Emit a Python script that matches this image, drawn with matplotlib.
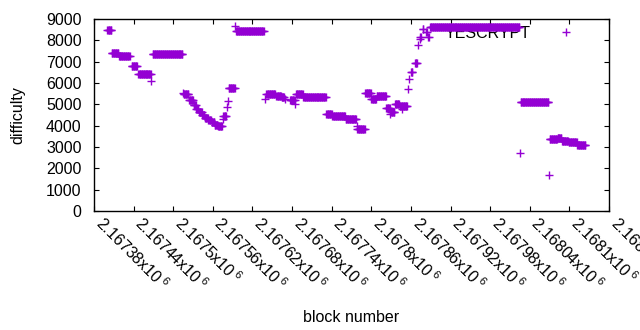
import numpy as np
import matplotlib
matplotlib.use("Agg")
import matplotlib.pyplot as plt

plt.rcParams['font.family'] = ['Liberation Sans', 'DejaVu Sans']
plt.rcParams['mathtext.fontset'] = 'custom'
plt.rcParams['mathtext.rm'] = 'Liberation Sans'
plt.rcParams['mathtext.it'] = 'Liberation Sans'

# Difficulty runs: (first block, last block, difficulty)
seg_start = [2167400, 2167407, 2167418, 2167437, 2167447, 2167467, 2167469,
             2167515, 2167516, 2167524, 2167531, 2167535, 2167539, 2167544,
             2167548, 2167553, 2167558, 2167563, 2167568, 2167575, 2167576,
             2167582, 2167583, 2167584, 2167594, 2167595, 2167639, 2167641,
             2167656, 2167664, 2167669, 2167677, 2167685, 2167686, 2167697,
             2167732, 2167741, 2167761, 2167778, 2167779, 2167791, 2167800,
             2167808, 2167823, 2167829, 2167830, 2167836, 2167843, 2167846,
             2167856, 2167857, 2167860, 2167866, 2167871, 2167873, 2167874,
             2167878, 2167883, 2167886, 2167889, 2168025, 2168026, 2168069,
             2168070, 2168082, 2168089, 2168099, 2168112]
seg_end = [2167406, 2167417, 2167434, 2167445, 2167466, 2167467, 2167514,
           2167515, 2167523, 2167530, 2167534, 2167538, 2167543, 2167547,
           2167552, 2167557, 2167562, 2167567, 2167574, 2167575, 2167580,
           2167582, 2167583, 2167593, 2167594, 2167637, 2167639, 2167654,
           2167663, 2167668, 2167669, 2167684, 2167685, 2167696, 2167731,
           2167740, 2167760, 2167777, 2167778, 2167790, 2167799, 2167807,
           2167822, 2167828, 2167829, 2167835, 2167842, 2167854, 2167846,
           2167856, 2167857, 2167862, 2167869, 2167871, 2167873, 2167875,
           2167879, 2167884, 2167887, 2168024, 2168025, 2168068, 2168069,
           2168081, 2168088, 2168098, 2168111, 2168124]
seg_difficulty = [8470, 7392, 7250, 6780, 6406, 6078, 7345,
                  5531, 5470, 5180, 4950, 4780, 4625, 4500,
                  4375, 4265, 4156, 4031, 3970, 4300, 4440,
                  4890, 5172, 5750, 8660, 8422, 5234, 5500,
                  5390, 5330, 5240, 5210, 5015, 5470, 5330,
                  4530, 4437, 4297, 3984, 3860, 5515, 5250,
                  5375, 4812, 4540, 4625, 5000, 4937, 4781,
                  5710, 6170, 6530, 6922, 7781, 8047, 8140,
                  8515, 8390, 8140, 8625, 2705, 5095, 1687,
                  3375, 3437, 3297, 3220, 3094]

tick_values = [2.16738, 2.16744, 2.16750, 2.16756, 2.16762, 2.16768, 2.16774,
               2.16780, 2.16786, 2.16792, 2.16798, 2.16804, 2.16810, 2.16816]
y_ticks = [0, 1000, 2000, 3000, 4000, 5000, 6000, 7000, 8000, 9000]

blocks = []
diffs = []
for s, e, d in zip(seg_start, seg_end, seg_difficulty):
    for b in range(s, e + 1):
        blocks.append(b)
        diffs.append(d)

FS = 11.5
fig = plt.figure(figsize=(6.4, 3.3), dpi=100)
ax = fig.add_axes([94/640, 1 - 211/330, (609-94)/640, (211-19)/330])

color = '#9400d3'
ax.plot(blocks, diffs, linestyle='none', marker='+', color=color,
        markersize=5.2, markeredgewidth=1.0, label='YESCRYPT', zorder=3)

ax.set_xlim(2167380, 2168160)
ax.set_ylim(0, 9000)
ax.set_yticks(y_ticks)
ax.set_yticklabels([str(v) for v in y_ticks])
ax.set_xticks([v * 1e6 for v in tick_values])
ax.set_xticklabels([f'{v:g}x10$\\,^{{6}}$' for v in tick_values])

ax.tick_params(direction='in', top=True, right=True, length=3.3, width=0.8,
               labelsize=FS, colors='black')
ax.tick_params(axis='y', pad=9)
ax.tick_params(axis='x', pad=10)
for lbl in ax.get_xticklabels():
    lbl.set_rotation(-45)
    lbl.set_ha('left')
    lbl.set_va('baseline')
    lbl.set_rotation_mode('anchor')

for sp in ax.spines.values():
    sp.set_linewidth(1.0)
    sp.set_color('black')

ax.set_xlabel('block number', fontsize=FS)
ax.set_ylabel('difficulty', fontsize=FS)
ax.xaxis.set_label_coords(0.5, -0.515)
ax.yaxis.set_label_coords(-0.133, 0.5)

leg = ax.legend(loc='upper right', bbox_to_anchor=(0.948, 0.965), frameon=False,
                markerfirst=False, fontsize=FS, handletextpad=1.2, handlelength=2.0,
                borderaxespad=0, borderpad=0)
leg.set_zorder(1)

fig.savefig('out.png', dpi=100)
